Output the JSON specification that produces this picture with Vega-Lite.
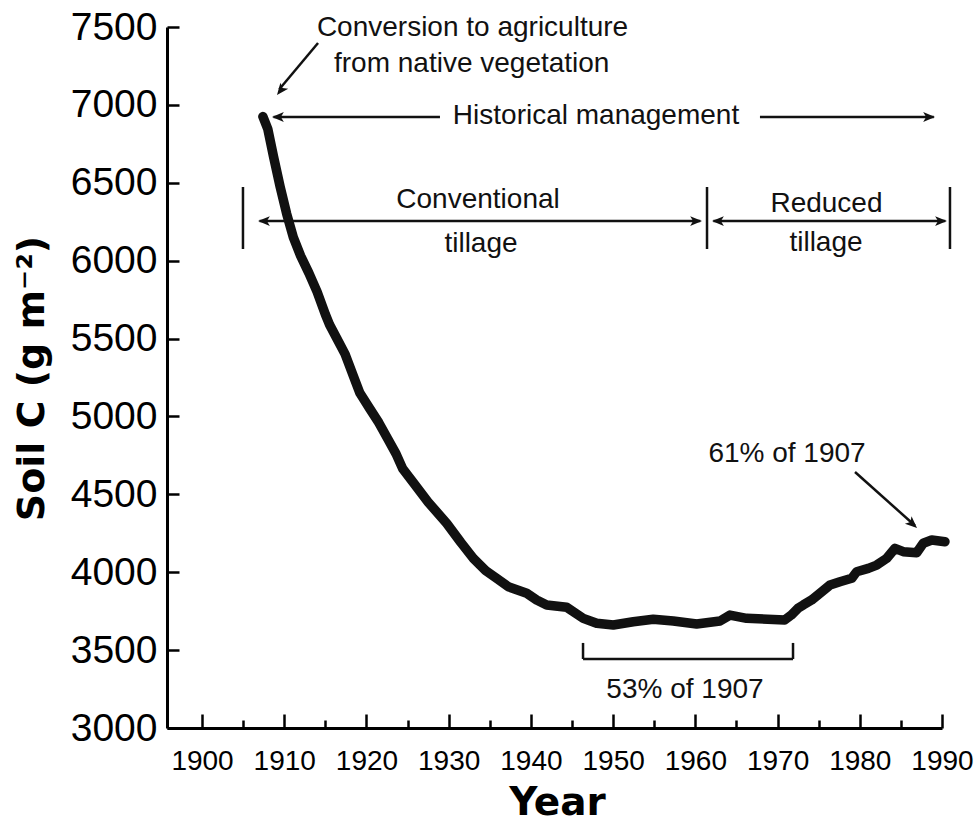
{
  "$schema": "https://vega.github.io/schema/vega-lite/v6.json",
  "width": 775,
  "height": 701,
  "autosize": "none",
  "padding": {"left": 167, "top": 27, "right": 34, "bottom": 96},
  "background": "white",
  "config": {"view": {"stroke": null}, "font": "Liberation Sans"},
  "datasets": {
    "soil": [
      {"year": 1907.4, "c": 6925}, {"year": 1908.0, "c": 6845}, {"year": 1908.7, "c": 6667},
      {"year": 1909.5, "c": 6475}, {"year": 1910.3, "c": 6300}, {"year": 1911.1, "c": 6150},
      {"year": 1912.0, "c": 6030}, {"year": 1913.0, "c": 5920}, {"year": 1914.0, "c": 5800},
      {"year": 1915.0, "c": 5655}, {"year": 1915.5, "c": 5590}, {"year": 1916.4, "c": 5500},
      {"year": 1917.4, "c": 5400}, {"year": 1918.4, "c": 5260}, {"year": 1919.2, "c": 5150},
      {"year": 1920.4, "c": 5050}, {"year": 1921.5, "c": 4960}, {"year": 1922.6, "c": 4855},
      {"year": 1923.6, "c": 4760}, {"year": 1924.4, "c": 4665}, {"year": 1925.7, "c": 4575},
      {"year": 1927.5, "c": 4450}, {"year": 1929.76, "c": 4314}, {"year": 1931.5, "c": 4190},
      {"year": 1933.0, "c": 4089}, {"year": 1934.5, "c": 4010}, {"year": 1935.84, "c": 3961},
      {"year": 1937.25, "c": 3907}, {"year": 1939.49, "c": 3865}, {"year": 1940.7, "c": 3822},
      {"year": 1941.92, "c": 3790}, {"year": 1944.35, "c": 3775}, {"year": 1946.37, "c": 3704},
      {"year": 1948.0, "c": 3672}, {"year": 1950.02, "c": 3661}, {"year": 1952.45, "c": 3682},
      {"year": 1954.88, "c": 3698}, {"year": 1957.32, "c": 3687}, {"year": 1960.16, "c": 3668},
      {"year": 1963.0, "c": 3687}, {"year": 1964.21, "c": 3725}, {"year": 1966.24, "c": 3704},
      {"year": 1970.86, "c": 3693}, {"year": 1971.67, "c": 3725}, {"year": 1972.48, "c": 3768},
      {"year": 1973.13, "c": 3790}, {"year": 1974.15, "c": 3822}, {"year": 1975.16, "c": 3865},
      {"year": 1976.38, "c": 3918}, {"year": 1977.59, "c": 3939}, {"year": 1979.02, "c": 3961},
      {"year": 1979.62, "c": 4003}, {"year": 1981.04, "c": 4025}, {"year": 1982.06, "c": 4046},
      {"year": 1983.27, "c": 4089}, {"year": 1984.28, "c": 4153}, {"year": 1985.29, "c": 4132},
      {"year": 1986.92, "c": 4125}, {"year": 1987.72, "c": 4186}, {"year": 1988.75, "c": 4207},
      {"year": 1990.36, "c": 4196}
    ],
    "segs": [
      {"x1": 1914.11, "y1": 7397, "x2": 1909.4, "y2": 7100},
      {"x1": 1908.7, "y1": 6922, "x2": 1928.94, "y2": 6922},
      {"x1": 1967.86, "y1": 6922, "x2": 1989.0, "y2": 6922},
      {"x1": 1907.0, "y1": 6254, "x2": 1960.6, "y2": 6254},
      {"x1": 1962.2, "y1": 6254, "x2": 1990.4, "y2": 6254},
      {"x1": 1904.98, "y1": 6473, "x2": 1904.98, "y2": 6075},
      {"x1": 1961.42, "y1": 6473, "x2": 1961.42, "y2": 6075},
      {"x1": 1990.97, "y1": 6473, "x2": 1990.97, "y2": 6075},
      {"x1": 1979.42, "y1": 4643, "x2": 1986.7, "y2": 4300},
      {"x1": 1946.34, "y1": 3546, "x2": 1946.34, "y2": 3443},
      {"x1": 1946.34, "y1": 3443, "x2": 1971.88, "y2": 3443},
      {"x1": 1971.88, "y1": 3546, "x2": 1971.88, "y2": 3443}
    ],
    "heads": [
      {"x": 1909.12, "y": 7063, "angle": 128},
      {"x": 1908.51, "y": 6922, "angle": 180},
      {"x": 1989.15, "y": 6922, "angle": 0},
      {"x": 1906.81, "y": 6254, "angle": 180},
      {"x": 1960.81, "y": 6254, "angle": 0},
      {"x": 1962.03, "y": 6254, "angle": 180},
      {"x": 1990.6, "y": 6254, "angle": 0},
      {"x": 1986.96, "y": 4284, "angle": 42}
    ],
    "labels": [
      {"x": 1932.9, "y": 7442, "t": "Conversion to agriculture"},
      {"x": 1932.8, "y": 7211, "t": "from native vegetation"},
      {"x": 1947.92, "y": 6877, "t": "Historical management"},
      {"x": 1933.57, "y": 6338, "t": "Conventional"},
      {"x": 1933.93, "y": 6055, "t": "tillage"},
      {"x": 1975.95, "y": 6312, "t": "Reduced"},
      {"x": 1975.89, "y": 6062, "t": "tillage"},
      {"x": 1958.74, "y": 3193, "t": "53% of 1907"},
      {"x": 1971.15, "y": 4707, "t": "61% of 1907"}
    ]
  },
  "layer": [
    {
      "data": {"name": "soil"},
      "mark": {"type": "line", "color": "#111111", "strokeWidth": 9.5, "strokeCap": "round", "strokeJoin": "round"},
      "encoding": {
        "x": {
          "field": "year", "type": "quantitative",
          "scale": {"domain": [1895.74, 1990], "nice": false, "zero": false},
          "axis": {
            "values": [1900, 1905, 1910, 1915, 1920, 1925, 1930, 1935, 1940, 1945, 1950, 1955, 1960, 1965, 1970, 1975, 1980, 1985, 1990],
            "format": "d",
            "labelExpr": "datum.value % 10 === 0 ? datum.label : ''",
            "tickSize": {"condition": {"test": "datum.value % 10 === 0", "value": -14}, "value": -8},
            "tickWidth": 2.5, "tickColor": "black",
            "domainColor": "black", "domainWidth": 3,
            "grid": false,
            "labelFont": "Liberation Sans", "labelFontSize": 28, "labelColor": "black",
            "labelPadding": 33, "labelOverlap": false, "labelFlush": false,
            "title": "Year", "titleFont": "DejaVu Sans", "titleFontWeight": "bold", "titleFontSize": 39,
            "titleColor": "black", "titleX": 390, "titleY": 86, "titleAlign": "center", "titleBaseline": "alphabetic"
          }
        },
        "y": {
          "field": "c", "type": "quantitative",
          "scale": {"domain": [3000, 7500], "nice": false, "zero": false},
          "axis": {
            "values": [3000, 3500, 4000, 4500, 5000, 5500, 6000, 6500, 7000, 7500],
            "format": "d",
            "tickSize": -12, "tickWidth": 2.5, "tickColor": "black",
            "domainColor": "black", "domainWidth": 3,
            "grid": false,
            "labelFont": "Liberation Sans", "labelFontSize": 39, "labelColor": "black",
            "labelPadding": 22, "labelOverlap": false, "labelFlush": false,
            "title": "Soil C (g m⁻²)", "titleFont": "DejaVu Sans", "titleFontWeight": "bold", "titleFontSize": 38,
            "titleColor": "black", "titleAngle": -90, "titleX": -124, "titleY": 351, "titleAlign": "center", "titleBaseline": "alphabetic"
          }
        }
      }
    },
    {
      "data": {"name": "segs"},
      "mark": {"type": "rule", "color": "#111111", "strokeWidth": 2.5},
      "encoding": {
        "x": {"field": "x1", "type": "quantitative"},
        "y": {"field": "y1", "type": "quantitative"},
        "x2": {"field": "x2"},
        "y2": {"field": "y2"}
      }
    },
    {
      "data": {"name": "heads"},
      "mark": {"type": "point", "shape": "M0,0L-1,-0.42L-0.75,0L-1,0.42Z", "filled": true, "color": "#111111", "size": 560, "opacity": 1, "strokeWidth": 0},
      "encoding": {
        "x": {"field": "x", "type": "quantitative"},
        "y": {"field": "y", "type": "quantitative"},
        "angle": {"field": "angle", "type": "quantitative", "scale": null}
      }
    },
    {
      "data": {"name": "labels"},
      "mark": {"type": "text", "font": "Liberation Sans", "fontSize": 28, "color": "#111111", "align": "center", "baseline": "alphabetic"},
      "encoding": {
        "x": {"field": "x", "type": "quantitative"},
        "y": {"field": "y", "type": "quantitative"},
        "text": {"field": "t"}
      }
    }
  ]
}
